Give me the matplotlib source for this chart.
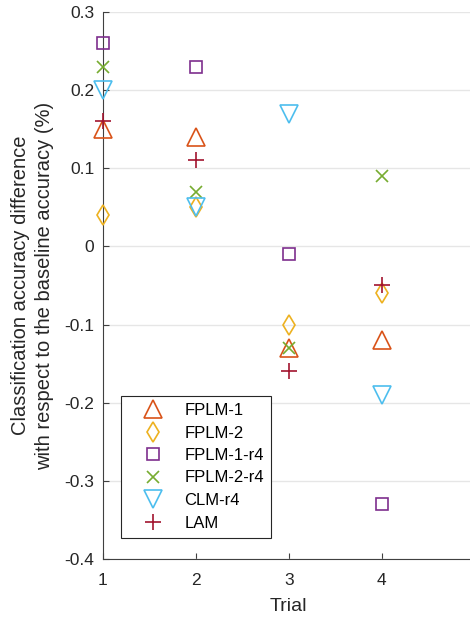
import matplotlib
matplotlib.use('Agg')
import matplotlib.pyplot as plt

plt.rcParams['font.family'] = ['Liberation Sans', 'DejaVu Sans']

trials = [1, 2, 3, 4]
series_names = ['FPLM-1', 'FPLM-2', 'FPLM-1-r4', 'FPLM-2-r4', 'CLM-r4', 'LAM']
fplm1 = [0.15, 0.14, -0.13, -0.12]
fplm2 = [0.04, 0.05, -0.10, -0.06]
fplm1_r4 = [0.26, 0.23, -0.01, -0.33]
fplm2_r4 = [0.23, 0.07, -0.13, 0.09]
clm_r4 = [0.20, 0.05, 0.17, -0.19]
lam = [0.16, 0.11, -0.16, -0.05]
yticks = [-0.4, -0.3, -0.2, -0.1, 0, 0.1, 0.2, 0.3]

styles = [
    ('^', '#D95319', 13),
    ('d', '#EDB120', 10.5),
    ('s', '#7E2F8E', 8),
    ('x', '#77AC30', 8),
    ('v', '#4DBEEE', 13),
    ('+', '#A2142F', 12),
]
all_series = [fplm1, fplm2, fplm1_r4, fplm2_r4, clm_r4, lam]

fig = plt.figure(figsize=(4.7, 6.2), dpi=100)
ax = fig.add_axes([102.5 / 470, 61 / 620, 372.5 / 470, 547 / 620])

handles = []
for name, vals, (mk, col, ms) in zip(series_names, all_series, styles):
    h, = ax.plot(trials, vals, linestyle='none', marker=mk, markersize=ms,
                 markerfacecolor='none', markeredgecolor=col,
                 markeredgewidth=1.2, label=name, clip_on=False, zorder=3)
    handles.append(h)

ax.set_xlim(1, 5)
ax.set_ylim(-0.4, 0.3)
ax.set_xticks(trials)
ax.set_yticks(yticks)
ax.set_yticklabels([f'{v:g}' for v in yticks])
ax.grid(axis='y', color='#e6e6e6', linewidth=1.0)
ax.set_axisbelow(True)
for s in ['top', 'right']:
    ax.spines[s].set_visible(False)
for s in ['left', 'bottom']:
    ax.spines[s].set_color('#404040')
    ax.spines[s].set_linewidth(0.8)
ax.tick_params(direction='in', length=4, width=0.8, color='#404040',
               labelsize=12.5, labelcolor='#262626')
ax.tick_params(axis='y', pad=6)
ax.tick_params(axis='x', pad=10)
ax.set_xlabel('Trial', fontsize=14, color='#262626', labelpad=7)
ax.set_ylabel('Classification accuracy difference\nwith respect to the baseline accuracy (%)',
              fontsize=14.5, color='#262626', labelpad=7, linespacing=1.35)

leg = fig.legend(handles=handles, loc='lower left',
                 bbox_to_anchor=(121 / 470, 82 / 620, 150 / 470, 141 / 620),
                 mode='expand', fontsize=12,
                 frameon=True, fancybox=False, framealpha=1,
                 edgecolor='#262626', handlelength=2.9, handletextpad=0.45,
                 labelspacing=0.45, borderpad=0.45, borderaxespad=0)
leg.get_frame().set_linewidth(0.8)

fig.savefig('out.png', dpi=100)
